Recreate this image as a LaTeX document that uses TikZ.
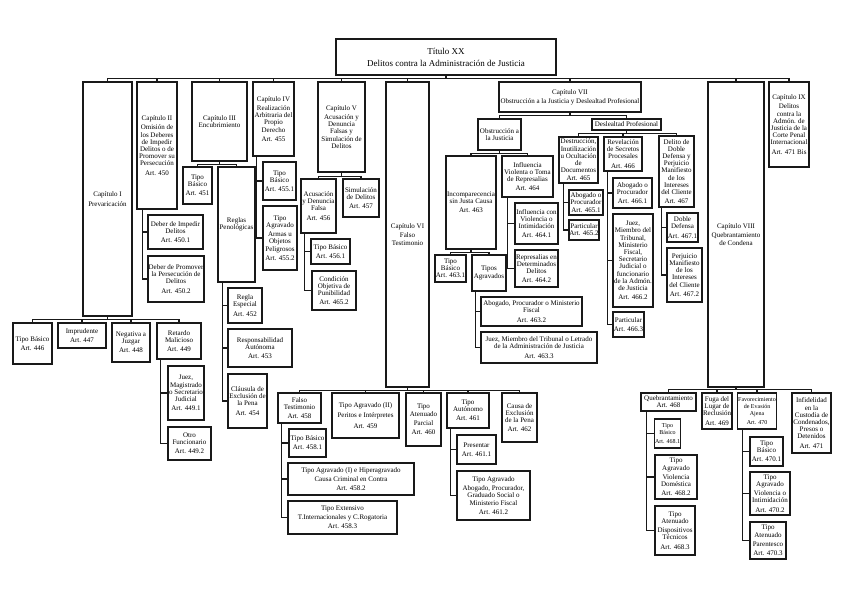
\documentclass[tikz,border=0pt]{standalone}
\usepackage{fontspec}
\setmainfont{Liberation Serif}
\usepackage{tikz}

% caja por sus esquinas: [opciones]{nombre}{x1}{y1}{x2}{y2}{texto}
\newcommand{\caja}[7][]{%
  \node[caja, #1, minimum width={#5-#3}, minimum height={#6-#4}]
    (#2) at ({(#3+#5)/2},{(#4+#6)/2}) {#7};}

\tikzset{
  caja/.style={draw=black!90, line width=1.1pt, inner sep=0.4pt, align=center,
    font=\fontsize{7}{7.2}\selectfont},
  linea/.style={draw=black!90, line width=1.1pt},
}

\begin{document}
\begin{tikzpicture}[x=1pt, y=-1pt]
	% marco de la imagen
	\useasboundingbox (0,0) rectangle (848,599);

	% titulo
	\caja[font=\fontsize{9}{12}\selectfont]{tit}{336}{39}{556}{75}{Título XX\\Delitos contra la Administración de Justicia}

	% capitulos
	\caja{c1}{83}{82}{132}{316}{Capítulo I\\[2pt]Prevaricación}
	\caja{c2}{137}{82}{177}{209}{Capítulo II\\[2pt]Omisión de\\los Deberes\\de Impedir\\Delitos o de\\Promover su\\Persecución\\[2pt]Art. 450}
	\caja{c3}{192}{82}{247}{161}{Capítulo III\\Encubrimiento}
	\caja{c4}{253}{82}{294}{156}{Capítulo IV\\[2pt]Realización\\Arbitraria del\\Propio\\Derecho\\[2pt]Art. 455}
	\caja{c5}{318}{82}{365}{172}{Capítulo V\\[2pt]Acusación y\\Denuncia\\Falsas y\\Simulación de\\Delitos}
	\caja{c6}{386}{82}{429}{387}{Capítulo VI\\[2pt]Falso\\Testimonio}
	\caja{c7}{499}{82}{641}{112}{Capítulo VII\\[2pt]Obstrucción a la Justicia y Deslealtad Profesional}
	\caja{c8}{708}{82}{764}{387}{Capítulo VIII\\[2pt]Quebrantamiento\\de Condena}
	\caja{c9}{769}{82}{809}{167}{Capítulo IX\\[2pt]Delitos\\contra la\\Admón. de\\Justicia de la\\Corte Penal\\Internacional\\[2pt]Art. 471 Bis}

	% capitulo I
	\caja{c1a}{13}{323}{52}{364}{Tipo Básico\\[2pt]Art. 446}
	\caja{c1b}{58}{323}{106}{348}{Imprudente\\[2pt]Art. 447}
	\caja{c1c}{112}{323}{150}{362}{Negativa a\\Juzgar\\[2pt]Art. 448}
	\caja{c1d}{157}{323}{201}{359}{Retardo\\Malicioso\\[2pt]Art. 449}
	\caja{c1d1}{168}{366}{204}{420}{Juez,\\Magistrado\\o Secretario\\Judicial\\[2pt]Art. 449.1}
	\caja{c1d2}{168}{427}{211}{460}{Otro\\Funcionario\\[2pt]Art. 449.2}

	% capitulo II
	\caja{c2a}{148}{215}{203}{249}{Deber de Impedir\\Delitos\\[2pt]Art. 450.1}
	\caja{c2b}{148}{256}{204}{302}{Deber de Promover\\la Persecución de\\Delitos\\[2pt]Art. 450.2}

	% capitulo III
	\caja{c3a}{183}{167}{212}{204}{Tipo\\Básico\\[2pt]Art. 451}
	\caja{c3b}{218}{167}{255}{282}{Reglas\\Penológicas}
	\caja{c3b1}{228}{288}{262}{323}{Regla\\Especial\\[2pt]Art. 452}
	\caja{c3b2}{228}{329}{292}{367}{Responsabilidad\\Autónoma\\[2pt]Art. 453}
	\caja{c3b3}{228}{374}{267}{428}{Cláusula de\\Exclusión de\\la Pena\\[2pt]Art. 454}

	% capitulo IV
	\caja{c4a}{263}{162}{296}{200}{Tipo\\Básico\\[2pt]Art. 455.1}
	\caja{c4b}{263}{206}{297}{270}{Tipo\\Agravado\\[2pt]Armas u\\Objetos\\Peligrosos\\[2pt]Art. 455.2}

	% capitulo V
	\caja{c5a}{301}{179}{336}{233}{Acusación\\y Denuncia\\Falsa\\[2pt]Art. 456}
	\caja{c5b}{343}{179}{379}{217}{Simulación\\de Delitos\\[2pt]Art. 457}
	\caja{c5a1}{311}{239}{350}{264}{Tipo Básico\\[2pt]Art. 456.1}
	\caja{c5a2}{312}{271}{356}{310}{Condición\\Objetiva de\\Punibilidad\\[2pt]Art. 465.2}

	% capitulo VI
	\caja{c6a}{278}{393}{321}{423}{Falso\\Testimonio\\[2pt]Art. 458}
	\caja{c6a1}{289}{429}{326}{457}{Tipo Básico\\[2pt]Art. 458.1}
	\caja{c6a2}{288}{463}{414}{495}{Tipo Agravado (I) e Hiperagravado\\[2pt]Causa Criminal en Contra\\[2pt]Art. 458.2}
	\caja{c6a3}{288}{501}{397}{534}{Tipo Extensivo\\[2pt]T.Internacionales y C.Rogatoria\\[2pt]Art. 458.3}
	\caja{c6b}{332}{393}{399}{438}{Tipo Agravado (II)\\[3pt]Peritos e Intérpretes\\[3pt]Art. 459}
	\caja{c6c}{406}{393}{441}{446}{Tipo\\Atenuado\\[2pt]Parcial\\[2pt]Art. 460}
	\caja{c6d}{447}{393}{489}{428}{Tipo\\Autónomo\\[2pt]Art. 461}
	\caja{c6d1}{457}{435}{496}{464}{Presentar\\[2pt]Art. 461.1}
	\caja{c6d2}{457}{471}{530}{520}{Tipo Agravado\\[2pt]Abogado, Procurador,\\Graduado Social o\\Ministerio Fiscal\\[2pt]Art. 461.2}
	\caja{c6e}{502}{393}{537}{442}{Causa de\\Exclusión\\de la Pena\\[2pt]Art. 462}

	% capitulo VII, obstruccion
	\caja{c7a}{478}{119}{521}{150}{Obstrucción a\\la Justicia}
	\caja{c7a1}{446}{156}{496}{249}{Incomparecencia\\sin Justa Causa\\[2pt]Art. 463}
	\caja{c7a11}{435}{255}{466}{282}{Tipo\\Básico\\Art. 463.1}
	\caja{c7a12}{472}{255}{506}{291}{Tipos\\Agravados}
	\caja{c7a121}{481}{297}{582}{326}{Abogado, Procurador o Ministerio\\Fiscal\\[2pt]Art. 463.2}
	\caja{c7a122}{481}{332}{597}{363}{Juez, Miembro del Tribunal o Letrado\\de la Administración de Justicia\\[2pt]Art. 463.3}
	\caja{c7a2}{502}{156}{553}{197}{Influencia\\Violenta o Toma\\de Represalias\\[2pt]Art. 464}
	\caja{c7a21}{515}{203}{558}{244}{Influencia con\\Violencia o\\Intimidación\\[2pt]Art. 464.1}
	\caja{c7a22}{515}{250}{558}{287}{Represalias en\\Determinados\\Delitos\\[2pt]Art. 464.2}

	% capitulo VII, deslealtad
	\caja{c7b}{592}{119}{661}{130}{Deslealtad Profesional}
	\caja{c7b1}{559}{137}{598}{183}{Destrucción,\\Inutilización\\u Ocultación\\de\\Documentos\\[1pt]Art. 465}
	\caja{c7b11}{569}{190}{603}{215}{Abogado o\\Procurador\\Art. 465.1}
	\caja{c7b12}{569}{220}{599}{240}{Particular\\Art. 465.2}
	\caja{c7b2}{604}{137}{642}{171}{Revelación\\de Secretos\\Procesales\\[2pt]Art. 466}
	\caja{c7b21}{613}{178}{652}{208}{Abogado o\\Procurador\\[2pt]Art. 466.1}
	\caja{c7b22}{613}{214}{653}{307}{Juez,\\Miembro del\\Tribunal,\\Ministerio\\Fiscal,\\Secretario\\Judicial o\\funcionario\\de la Admón.\\de Justicia\\[2pt]Art. 466.2}
	\caja{c7b23}{613}{312}{644}{337}{Particular\\[2pt]Art. 466.3}
	\caja{c7b3}{659}{136}{694}{207}{Delito de\\Doble\\Defensa y\\Perjuicio\\Manifiesto\\de los\\Intereses\\del Cliente\\[2pt]Art. 467}
	\caja{c7b31}{667}{213}{698}{242}{Doble\\Defensa\\[2pt]Art. 467.1}
	\caja{c7b32}{667}{248}{702}{302}{Perjuicio\\Manifiesto\\de los\\Intereses\\del Cliente\\[2pt]Art. 467.2}

	% capitulo VIII
	\caja{c8a}{641}{393}{696}{411}{Quebrantamiento\\Art. 468}
	\caja[font=\fontsize{6}{6.8}\selectfont]{c8a1}{655}{419}{680}{448}{Tipo\\Básico\\[2pt]Art. 468.1}
	\caja{c8a2}{655}{455}{697}{499}{Tipo\\Agravado\\[2pt]Violencia\\Doméstica\\[2pt]Art. 468.2}
	\caja{c8a3}{655}{506}{695}{555}{Tipo\\Atenuado\\[2pt]Dispositivos\\Técnicos\\[2pt]Art. 468.3}
	\caja{c8b}{702}{393}{732}{429}{Fuga del\\Lugar de\\Reclusión\\[2pt]Art. 469}
	\caja[font=\fontsize{6}{7}\selectfont]{c8c}{738}{393}{776}{429}{Favorecimiento\\de Evasión\\Ajena\\[2pt]Art. 470}
	\caja{c8c1}{750}{437}{783}{466}{Tipo\\Básico\\[2pt]Art. 470.1}
	\caja{c8c2}{750}{472}{790}{515}{Tipo\\Agravado\\[2pt]Violencia o\\Intimidación\\[2pt]Art. 470.2}
	\caja{c8c3}{750}{522}{786}{559}{Tipo\\Atenuado\\[2pt]Parentesco\\[2pt]Art. 470.3}
	\caja{c8d}{792}{393}{831}{453}{Infidelidad\\en la\\Custodia de\\Condenados,\\Presos o\\Detenidos\\[2pt]Art. 471}

	% conectores en barra (padre arriba, hijos en fila)
	\foreach \h in {c1,c2,c3,c4,c5,c6,c7,c8,c9}
		\draw[linea] (tit.south) -- ++(0,3) -| (\h.north);
	\foreach \h in {c1a,c1b,c1c,c1d}
		\draw[linea] (c1.south) -- ++(0,3) -| (\h.north);
	\foreach \h in {c3a,c3b}
		\draw[linea] (c3.south) -- ++(0,3) -| (\h.north);
	\foreach \h in {c5a,c5b}
		\draw[linea] (c5.south) -- ++(0,3.5) -| (\h.north);
	\foreach \h in {c6a,c6b,c6c,c6d,c6e}
		\draw[linea] (c6.south) -- ++(0,2.5) -| (\h.north);
	\foreach \h in {c7a,c7b}
		\draw[linea] (c7.south) -- ++(0,3) -| (\h.north);
	\foreach \h in {c7a1,c7a2}
		\draw[linea] (c7a.south) -- ++(0,3) -| (\h.north);
	\foreach \h in {c7a11,c7a12}
		\draw[linea] (c7a1.south) -- ++(0,3) -| (\h.north);
	\foreach \h in {c7b1,c7b2,c7b3}
		\draw[linea] (c7b.south) -- ++(0,3) -| (\h.north);
	\foreach \h in {c8a,c8b,c8c,c8d}
		\draw[linea] (c8.south) -- ++(0,2) -| (\h.north);

	% conectores en espina (hijos en columna, a la izquierda)
	\foreach \h in {c1d1,c1d2}
		\draw[linea] ([xshift=4pt]c1d.south west) |- (\h.west);
	\foreach \h in {c2a,c2b}
		\draw[linea] ([xshift=6pt]c2.south west) |- (\h.west);
	\foreach \h in {c3b1,c3b2,c3b3}
		\draw[linea] ([xshift=5pt]c3b.south west) |- (\h.west);
	\foreach \h in {c4a,c4b}
		\draw[linea] ([xshift=4pt]c4.south west) |- (\h.west);
	\foreach \h in {c5a1,c5a2}
		\draw[linea] ([xshift=4pt]c5a.south west) |- (\h.west);
	\foreach \h in {c6a1,c6a2,c6a3}
		\draw[linea] ([xshift=4pt]c6a.south west) |- (\h.west);
	\foreach \h in {c6d1,c6d2}
		\draw[linea] ([xshift=4pt]c6d.south west) |- (\h.west);
	\foreach \h in {c7a121,c7a122}
		\draw[linea] ([xshift=4pt]c7a12.south west) |- (\h.west);
	\foreach \h in {c7a21,c7a22}
		\draw[linea] ([xshift=6pt]c7a2.south west) |- (\h.west);
	\foreach \h in {c7b11,c7b12}
		\draw[linea] ([xshift=5pt]c7b1.south west) |- (\h.west);
	\foreach \h in {c7b21,c7b22,c7b23}
		\draw[linea] ([xshift=4pt]c7b2.south west) |- (\h.west);
	\foreach \h in {c7b31,c7b32}
		\draw[linea] ([xshift=3pt]c7b3.south west) |- (\h.west);
	\foreach \h in {c8a1,c8a2,c8a3}
		\draw[linea] ([xshift=6pt]c8a.south west) |- (\h.west);
	\foreach \h in {c8c1,c8c2,c8c3}
		\draw[linea] ([xshift=5pt]c8c.south west) |- (\h.west);
\end{tikzpicture}
\end{document}
